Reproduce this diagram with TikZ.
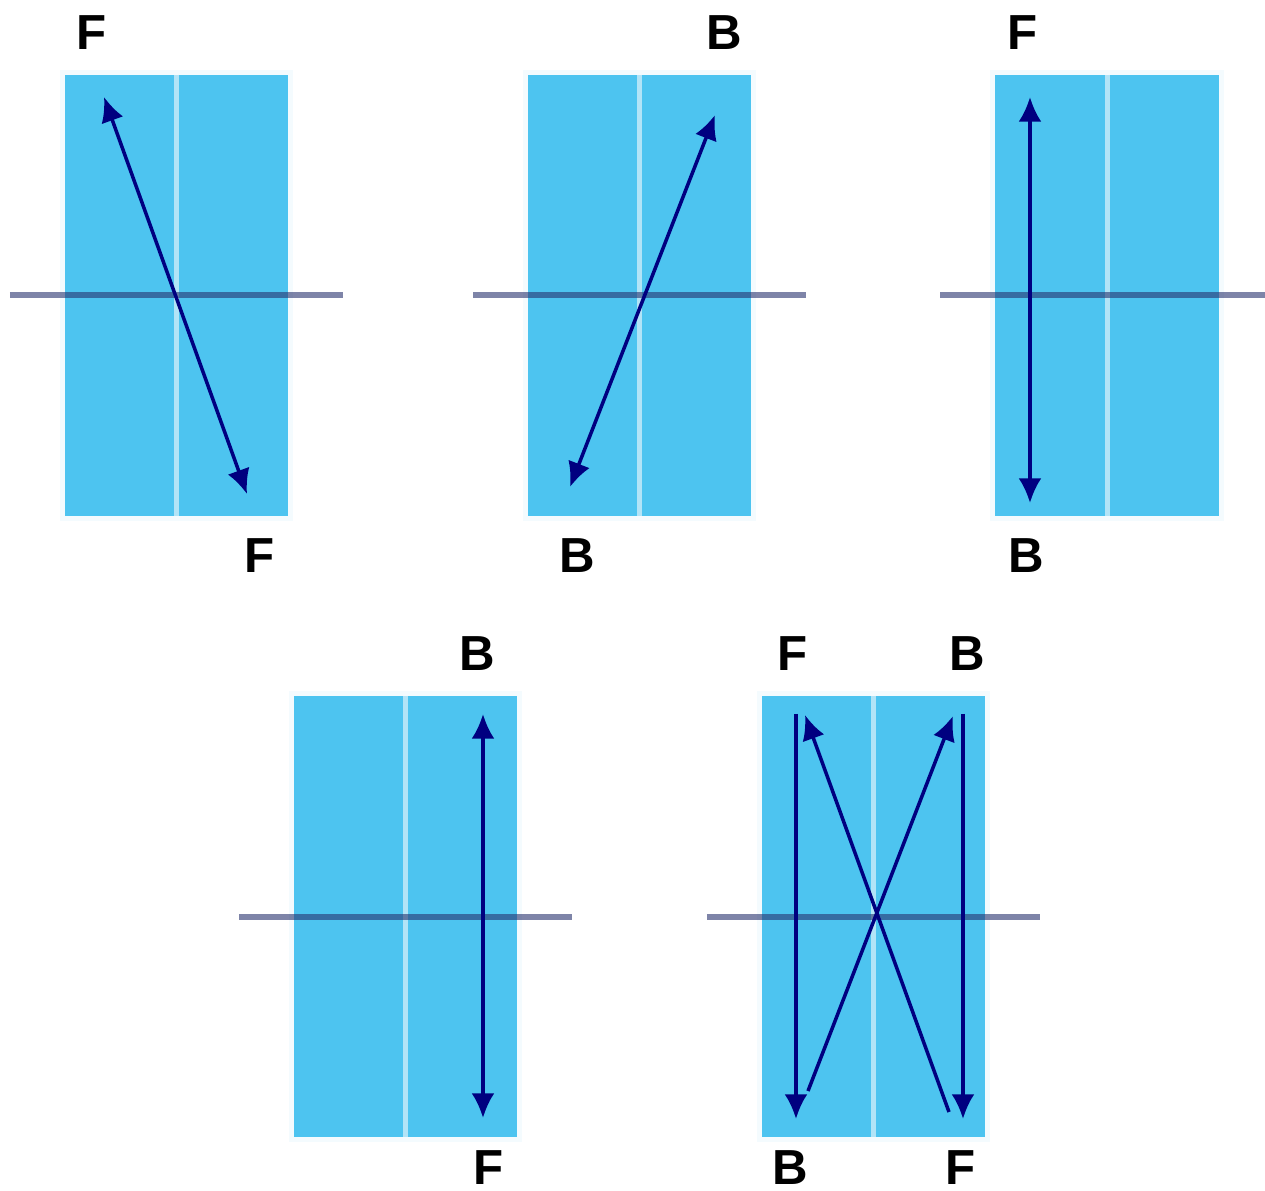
\documentclass[tikz,border=0pt]{standalone}
\usepackage{fontspec}
\setmainfont{Liberation Sans}
\usepackage{tikz}
\usetikzlibrary{arrows.meta, positioning, calc}
\definecolor{slabblue}{RGB}{77,196,240}
\definecolor{gapblue}{RGB}{178,228,247}
\definecolor{axisgray}{RGB}{40,50,110}
\definecolor{raynavy}{RGB}{0,0,128}
\tikzstyle{slab} = [rectangle, fill=slabblue, preaction={draw=slabblue!6, line width=0.1cm}, minimum width=2.23cm, minimum height=4.41cm, inner sep=0pt, outer sep=0pt]
\tikzstyle{gap} = [draw=gapblue, line width=0.05cm]
\tikzstyle{axis} = [draw=axisgray, draw opacity=0.6, line width=0.06cm]
\tikzstyle{ray} = [draw=raynavy, line width=0.035cm]
\tikzstyle{tag} = [font=\bfseries\fontsize{14}{16}\selectfont, inner sep=0pt]

\begin{document}
\begin{tikzpicture}[x=0.01cm, y=-0.01cm, >={Latex[length=7pt, width=6.5pt]}]
        \useasboundingbox (0,0) rectangle (1265,1191);

        % Slabs
        \node [slab] (slab1) at (176.5,295.5) {};
        \node [slab, right=2.4cm of slab1] (slab2) {};
        \node [slab, right=2.44cm of slab2] (slab3) {};
        \node [slab, below=1.8cm of $(slab1.south)!0.495!(slab2.south)$] (slab4) {};
        \node [slab, below=1.8cm of $(slab2.south)!0.5!(slab3.south)$] (slab5) {};

        % Dividers and axes
        \foreach \s in {slab1, slab2, slab3, slab4, slab5} {
            \draw [gap] (\s.north) -- (\s.south);
            \draw [axis] ($(\s.west)+(-55,0)$) -- ($(\s.east)+(55,0)$);
        }

        % Ray ends
        \coordinate (r1a) at (104,97);
        \coordinate (r1b) at (247,494);
        \coordinate (r2a) at (715,115);
        \coordinate (r2b) at (570,487);
        \coordinate (r3a) at (1030,97);
        \coordinate (r3b) at (1030,503);
        \coordinate (r4a) at (483,714);
        \coordinate (r4b) at (483,1118);
        \coordinate (r5a) at (796,714);
        \coordinate (r5b) at (796,1119);
        \coordinate (r5c) at (963,714);
        \coordinate (r5d) at (963,1119);
        \coordinate (r5e) at (808,1091);
        \coordinate (r5f) at (953,716);
        \coordinate (r5g) at (949,1112);
        \coordinate (r5h) at (805,715);

        % Rays
        \draw [ray, <->] (r1a) -- (r1b);
        \draw [ray, <->] (r2a) -- (r2b);
        \draw [ray, <->] (r3a) -- (r3b);
        \draw [ray, <->] (r4a) -- (r4b);
        \draw [ray, ->] (r5a) -- (r5b);
        \draw [ray, ->] (r5c) -- (r5d);
        \draw [ray, ->] (r5e) -- (r5f);
        \draw [ray, ->] (r5g) -- (r5h);

        % Labels
        \node [tag] (t1a) at (92,33) {F};
        \node [tag] (t1b) at (260,556) {F};
        \node [tag] (t2a) at (724,33) {B};
        \node [tag] (t2b) at (577,556) {B};
        \node [tag] (t3a) at (1023,33) {F};
        \node [tag] (t3b) at (1026,556) {B};
        \node [tag] (t4a) at (477,654) {B};
        \node [tag] (t4b) at (489,1168) {F};
        \node [tag] (t5a) at (793,654) {F};
        \node [tag] (t5b) at (967,654) {B};
        \node [tag] (t5c) at (790,1168) {B};
        \node [tag] (t5d) at (961,1168) {F};
    \end{tikzpicture}
\end{document}
